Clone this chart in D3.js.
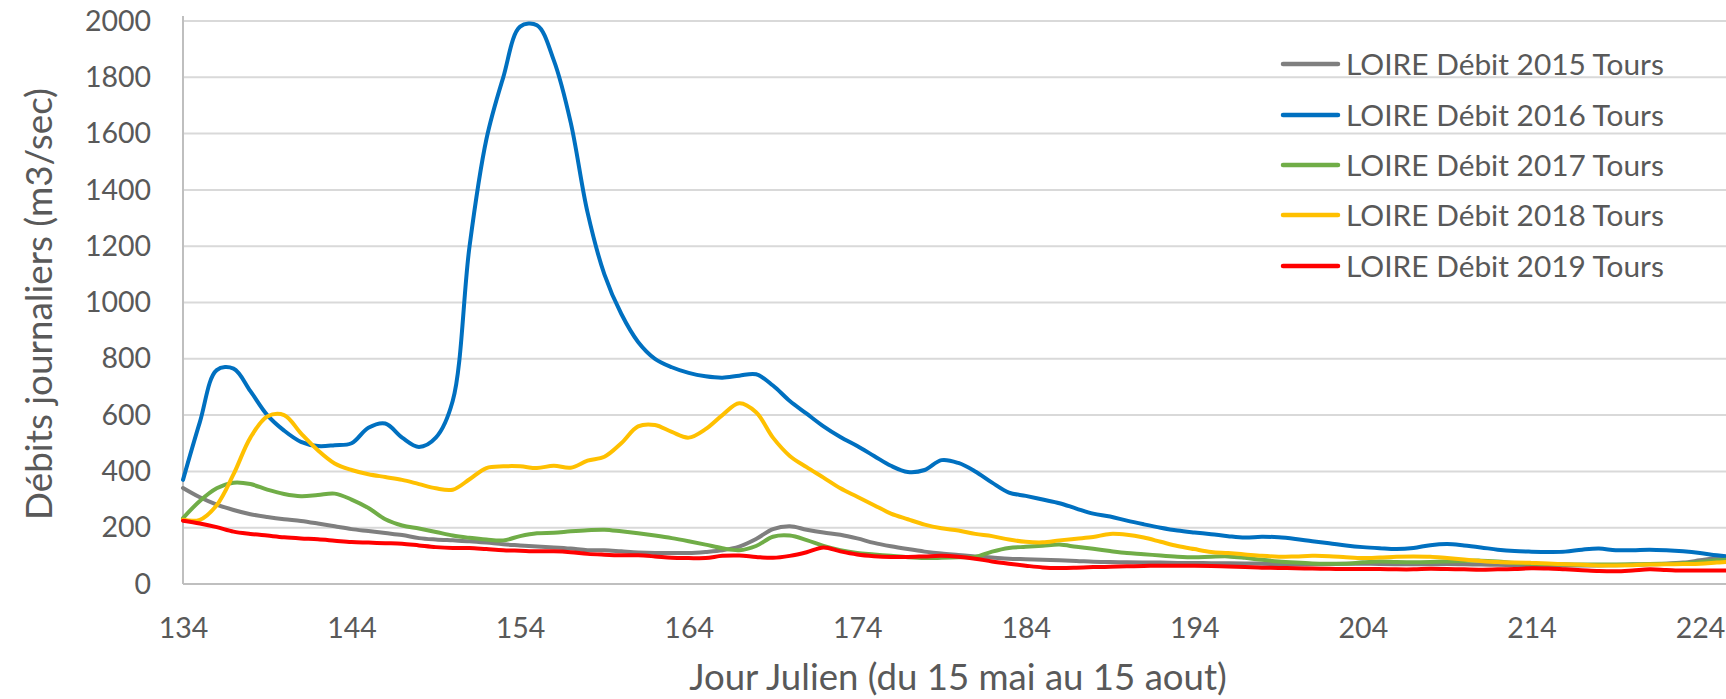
<!DOCTYPE html>
<html><head><meta charset="utf-8">
<script src="https://cdn.jsdelivr.net/npm/d3@7/dist/d3.min.js"></script>
<style>html,body{margin:0;padding:0;background:#fff;overflow:hidden}
text{font-family:Lato,"Open Sans",sans-serif;fill:#595959}</style>
</head><body>
<svg id="chart" width="1726" height="699"></svg>
<script>
// ---- data ----
const dayStart = 134, dayEnd = 227;
const xTicks = [134, 144, 154, 164, 174, 184, 194, 204, 214, 224];
const yTicks = [0, 200, 400, 600, 800, 1000, 1200, 1400, 1600, 1800, 2000];
const seriesNames = ["LOIRE Débit 2015 Tours", "LOIRE Débit 2016 Tours", "LOIRE Débit 2017 Tours", "LOIRE Débit 2018 Tours", "LOIRE Débit 2019 Tours"];
const seriesColors = ["#7f7f7f", "#0070c0", "#70ad47", "#ffc000", "#ff0000"];
const xTitle = "Jour Julien (du 15 mai au 15 aout)";
const yTitle = "Débits journaliers (m3/sec)";

const q2015 = [341, 308, 282, 263, 248, 238, 230, 224, 215, 205,
  195, 188, 181, 174, 163, 158, 155, 152, 147, 141,
  137, 133, 130, 126, 120, 120, 116, 112, 110, 110,
  110, 114, 120, 133, 160, 195, 205, 193, 183, 175,
  162, 146, 134, 124, 115, 108, 103, 98, 94, 90,
  88, 86, 84, 82, 79, 78, 77, 76, 76, 75,
  75, 74, 74, 73, 72, 70, 69, 70, 71, 72,
  72, 71, 70, 70, 70, 71, 70, 69, 68, 67,
  66, 66, 66, 66, 66, 67, 68, 70, 72, 76,
  84, 92, 96, 98];
const q2016 = [370, 575, 760, 765, 685, 600, 545, 505, 490, 493,
  500, 555, 570, 520, 487, 520, 650, 1200, 1580, 1800,
  1980, 1985, 1860, 1640, 1320, 1100, 960, 860, 800, 770,
  750, 738, 733, 740, 745, 705, 650, 605, 560, 522,
  490, 455, 420, 398, 405, 440, 430, 400, 360, 325,
  313, 300, 287, 268, 250, 240, 225, 212, 200, 190,
  183, 177, 170, 165, 168, 166, 160, 152, 145, 137,
  131, 127, 124, 128, 138, 142, 137, 130, 122, 117,
  115, 114, 115, 122, 126, 120, 120, 122, 120, 116,
  110, 102, 96, 92];
const q2017 = [234, 295, 340, 360, 355, 335, 320, 312, 316, 321,
  300, 270, 230, 208, 197, 185, 172, 164, 158, 155,
  170, 180, 182, 187, 191, 193, 187, 180, 172, 163,
  152, 140, 127, 120, 135, 168, 172, 156, 135, 120,
  110, 105, 100, 95, 92, 93, 95, 96, 115, 128,
  132, 136, 140, 132, 125, 117, 110, 106, 101, 97,
  95, 97, 98, 93, 86, 80, 76, 73, 72, 72,
  77, 80, 78, 77, 78, 80, 82, 83, 80, 75,
  72, 71, 70, 69, 69, 69, 70, 71, 72, 74,
  78, 84, 88, 90];
const q2018 = [228, 228, 280, 390, 520, 595, 600, 535, 475, 428,
  405, 390, 380, 370, 355, 340, 335, 372, 412, 418,
  418, 412, 420, 413, 438, 452, 500, 560, 565, 540,
  520, 550, 600, 642, 610, 520, 455, 415, 378, 340,
  310, 280, 250, 230, 211, 198, 190, 178, 170, 158,
  150, 148, 155, 161, 167, 178, 175, 165, 150, 135,
  124, 114, 110, 105, 100, 97, 98, 100, 99, 95,
  92, 94, 97, 98, 97, 92, 87, 82, 78, 76,
  75, 73, 70, 68, 66, 66, 67, 69, 70, 71,
  72, 76, 80, 82];
const q2019 = [225, 215, 202, 186, 178, 172, 166, 162, 159, 154,
  149, 147, 145, 143, 137, 131, 128, 128, 124, 120,
  118, 116, 116, 113, 107, 104, 102, 102, 98, 93,
  92, 92, 100, 101, 96, 93, 100, 113, 130, 116,
  105, 99, 96, 96, 98, 100, 97, 90, 80, 72,
  65, 59, 57, 58, 60, 61, 63, 64, 65, 65,
  65, 64, 62, 60, 58, 57, 56, 55, 54, 53,
  53, 53, 52, 52, 54, 53, 52, 51, 52, 53,
  56, 55, 52, 49, 46, 45, 48, 52, 50, 48,
  48, 48, 48, 48];

const seriesValues = [q2015, q2016, q2017, q2018, q2019];
const days = d3.range(dayStart, dayEnd + 1);

// ---- chart ----
const W = 1726, H = 699;
const svg = d3.select("#chart");
const x = d3.scaleLinear().domain([134, 224]).range([183, 1700]);
const y = d3.scaleLinear().domain([0, 2000]).range([584, 21]);
const FONT = 'Lato,"Open Sans",sans-serif';

// scale a text's font size so that its length matches a target length
function fit(sel, target) {
  const base = +sel.attr("font-size");
  const w = sel.node().getBBox().width;
  if (w > 0) sel.attr("font-size", base * target / w);
  return sel;
}

// gridlines
svg.append("g").selectAll("line").data(yTicks.filter(d => d > 0)).join("line")
  .attr("x1", x(134)).attr("x2", W + 5)
  .attr("y1", d => y(d)).attr("y2", d => y(d))
  .attr("stroke", "#d9d9d9").attr("stroke-width", 2);

// axis lines
svg.append("line").attr("x1", x(134)).attr("x2", W + 5).attr("y1", y(0)).attr("y2", y(0))
  .attr("stroke", "#bfbfbf").attr("stroke-width", 2);
svg.append("line").attr("x1", x(134)).attr("x2", x(134)).attr("y1", y(2000) - 5).attr("y2", y(0))
  .attr("stroke", "#bfbfbf").attr("stroke-width", 2);

const TICK_FS = 28.5;
// y axis labels
const gy = svg.append("g").attr("transform", `translate(${x(134)},0)`)
  .call(d3.axisLeft(y).tickValues(yTicks).tickSize(0).tickPadding(32).tickFormat(d3.format("d")));
gy.select(".domain").remove();
gy.selectAll("text").attr("font-size", TICK_FS).style("font-family", FONT).attr("fill", "#595959");

// x axis labels
const gx = svg.append("g").attr("transform", `translate(0,${y(0)})`)
  .call(d3.axisBottom(x).tickValues(xTicks).tickSize(0).tickPadding(34).tickFormat(d3.format("d")));
gx.select(".domain").remove();
gx.selectAll("text").attr("font-size", TICK_FS).style("font-family", FONT).attr("fill", "#595959");

// titles
fit(svg.append("text").attr("x", 958).attr("y", 690).attr("text-anchor", "middle")
  .attr("font-size", 34).text(xTitle), 538);
fit(svg.append("text").attr("transform", "translate(52,304) rotate(-90)").attr("text-anchor", "middle")
  .attr("font-size", 34).text(yTitle), 432);

// lines
const line = d3.line().x(d => x(d[0])).y(d => y(d[1])).curve(d3.curveCatmullRom.alpha(0.5));
seriesValues.forEach((vals, i) => {
  svg.append("path").datum(days.map((d, j) => [d, vals[j]]))
    .attr("d", line).attr("fill", "none")
    .attr("stroke", seriesColors[i]).attr("stroke-width", 4)
    .attr("stroke-linejoin", "round").attr("stroke-linecap", "round");
});

// legend
const legendRows = [64, 115, 165, 215, 266];
const lg = svg.append("g");
seriesNames.forEach((name, i) => {
  lg.append("line").attr("x1", 1283).attr("x2", 1338).attr("y1", legendRows[i]).attr("y2", legendRows[i])
    .attr("stroke", seriesColors[i]).attr("stroke-width", 4.5).attr("stroke-linecap", "round");
  fit(lg.append("text").attr("x", 1346).attr("y", legendRows[i]).attr("dy", "0.36em")
    .attr("font-size", 30).text(name), 318);
});
</script>
</body></html>
